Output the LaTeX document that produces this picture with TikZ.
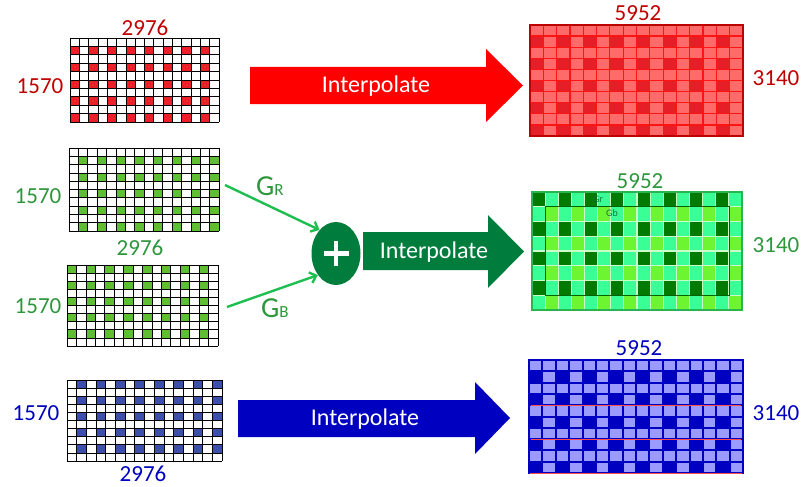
\documentclass[tikz,border=0pt]{standalone}
\usepackage{fontspec}
\setmainfont{Carlito}
\usetikzlibrary{arrows.meta,shapes.geometric}

\definecolor{labred}{RGB}{192,0,0}
\definecolor{labgreen}{RGB}{46,150,60}
\definecolor{labblue}{RGB}{0,0,192}
\definecolor{cellred}{RGB}{236,32,40}
\definecolor{cellgreen}{RGB}{96,190,50}
\definecolor{cellblue}{RGB}{60,80,170}
\definecolor{arrred}{RGB}{255,0,0}
\definecolor{arrgreen}{RGB}{0,125,60}
\definecolor{arrblue}{RGB}{0,0,192}
\definecolor{conngreen}{RGB}{30,190,80}
\definecolor{orlight}{RGB}{255,106,106}
\definecolor{ordark}{RGB}{230,30,40}
\definecolor{orline}{RGB}{255,20,20}
\definecolor{orborder}{RGB}{190,0,0}
\definecolor{ogdark}{RGB}{0,122,0}
\definecolor{ogmint}{RGB}{58,255,150}
\definecolor{oglime}{RGB}{110,245,50}
\definecolor{oggap}{RGB}{200,255,200}
\definecolor{ogborder}{RGB}{40,180,80}
\definecolor{obdark}{RGB}{0,0,192}
\definecolor{oblight}{RGB}{155,155,255}
\definecolor{gtext}{RGB}{20,110,60}

\tikzset{
  numlbl/.style={font=\fontsize{23}{27}\selectfont, inner sep=0},
  itext/.style={font=\fontsize{24}{28}\selectfont, text=white, inner sep=0},
  gline/.style={line width=0.7pt, black},
  gridnode/.style={inner sep=0, draw=none},
  conn/.style={conngreen, line width=2.4pt, -{Straight Barb[length=6pt,width=11pt]}},
}

\newcommand{\ingrid}[8]{%
  \pgfmathsetmacro\gw{(#4-#2)/16}%
  \pgfmathsetmacro\gh{(#5-#3)/10}%
  \node[gridnode, minimum width={#4-#2}, minimum height={#5-#3}] (#1) at ({(#2+#4)/2},{(#3+#5)/2}) {};
  \fill[white] (#2,#3) rectangle (#4,#5);
  \foreach \r in {#7} \foreach \c in {#8} \fill[#6] ({#2+\c*\gw},{#3+\r*\gh}) rectangle ++(\gw,\gh);
  \foreach \i in {0,...,16} \draw[gline] ({#2+\i*\gw},#3) -- ({#2+\i*\gw},#5);
  \foreach \j in {0,...,10} \draw[gline] (#2,{#3+\j*\gh}) -- (#4,{#3+\j*\gh});
}

\begin{document}
\begin{tikzpicture}[x=1pt,y=-1pt]
\useasboundingbox (0,0) rectangle (801,487);

% ---------- input grids ----------
\ingrid{rin}{70}{38}{219}{122}{cellred}{1,3,...,9}{0,2,...,14}
\ingrid{gtop}{69}{148}{219}{231}{cellgreen}{1,3,...,9}{1,3,...,15}
\ingrid{gbot}{67}{265}{218}{346}{cellgreen}{0,2,...,8}{0,2,...,14}
\ingrid{bin}{67}{380}{222}{461}{cellblue}{0,2,...,8}{1,3,...,15}

% ---------- labels ----------
\node[numlbl, text=labred] (r2976) at (145,28) {2976};
\node[numlbl, text=labred] (r1570) at (40,86) {1570};
\node[numlbl, text=labred] (r5952) at (638,13) {5952};
\node[numlbl, text=labred] (r3140) at (776,78) {3140};
\node[numlbl, text=labgreen] (g1570a) at (38,196) {1570};
\node[numlbl, text=labgreen] (g2976) at (140,248) {2976};
\node[numlbl, text=labgreen] (g1570b) at (38,306) {1570};
\node[numlbl, text=labgreen] (g5952) at (640,181) {5952};
\node[numlbl, text=labgreen] (g3140) at (776,245) {3140};
\node[numlbl, text=labblue] (b1570) at (36,413) {1570};
\node[numlbl, text=labblue] (b2976) at (143,474) {2976};
\node[numlbl, text=labblue] (b5952) at (639,348) {5952};
\node[numlbl, text=labblue] (b3140) at (776,413) {3140};

% ---------- big arrows ----------
\fill[arrred] (250,67) -- (486,67) -- (486,49) -- (523,85.5) -- (486,122) -- (486,104) -- (250,104) -- cycle;
\node[itext] (tr) at (376,86) {Interpolate};
\fill[arrgreen] (363,232) -- (488,232) -- (488,215) -- (524,251.5) -- (488,288) -- (488,270) -- (363,270) -- cycle;
\node[itext] (tg) at (434,252) {Interpolate};
\fill[arrblue] (238,400) -- (475,400) -- (475,382) -- (510,418) -- (475,454) -- (475,437) -- (238,437) -- cycle;
\node[itext] (tb) at (365,419) {Interpolate};

% ---------- plus and connectors ----------
\node[ellipse, fill=arrgreen, minimum width=49, minimum height=63, inner sep=0] (plus) at (336,253.5) {};
\draw[white, line width=4.5pt] ([xshift=-12.5pt]plus.center) -- ([xshift=12.5pt]plus.center);
\draw[white, line width=4.5pt] ([yshift=-12.5pt]plus.center) -- ([yshift=12.5pt]plus.center);
\coordinate (grs) at (225,185);
\coordinate (gbs) at (227,307);
\draw[conn] (grs) -- (plus.125);
\draw[conn] (gbs) -- (plus.230);
\node[anchor=base west, inner sep=0, text=labgreen] (grl) at (256,195.5) {\fontsize{29}{31}\selectfont G\fontsize{17}{19}\selectfont R};
\node[anchor=base west, inner sep=0, text=labgreen] (gbl) at (261,317) {\fontsize{29}{31}\selectfont G\fontsize{17}{19}\selectfont B};

% ---------- red output ----------
\node[gridnode, minimum width=213, minimum height=111] (rout) at (636.5,80.5) {};
\fill[orline] (530,25) rectangle (743,136);
\foreach \r in {0,...,9} \foreach \c in {0,...,15}
  \fill[orlight] ({530+\c*13.3125+0.6},{25+\r*11.1+0.6}) rectangle ++(12.1,9.9);
\foreach \r in {1,3,...,9} \foreach \c in {0,2,...,14}
  \fill[ordark] ({530+\c*13.3125+0.6},{25+\r*11.1+0.6}) rectangle ++(12.1,9.9);
\draw[orborder, line width=2.5pt] (530,25) rectangle (743,136);

% ---------- green output ----------
\node[gridnode, minimum width=210, minimum height=118] (gout) at (637,251) {};
\fill[oggap] (532,192) rectangle (742,310);
\foreach \r in {0,...,7} \foreach \c in {0,...,15}
  \fill[ogmint] ({532+\c*13.125+0.6},{192+\r*14.75+0.6}) rectangle ++(11.9,13.55);
\foreach \r in {0,2,...,6} \foreach \c in {0,2,...,14}
  \fill[ogdark] ({532+\c*13.125+0.6},{192+\r*14.75+0.6}) rectangle ++(11.9,13.55);
\foreach \r in {1,3,...,7} \foreach \c in {1,3,...,15}
  \fill[oglime] ({532+\c*13.125+0.6},{192+\r*14.75+0.6}) rectangle ++(11.9,13.55);
\draw[ogdark!80!black, line width=0.8pt] (545.1,206.75) rectangle (728.9,295.25);
\draw[ogborder, line width=1.5pt] (532,192) rectangle (742,310);
\node[font=\fontsize{10}{12}\selectfont, text=gtext, inner sep=0] (grtag) at (598,199) {Gr};
\node[font=\fontsize{10}{12}\selectfont, text=gtext, inner sep=0] (gbtag) at (612,213.5) {Gb};

% ---------- blue output ----------
\node[gridnode, minimum width=214, minimum height=113] (bout) at (636,416.5) {};
\fill[obdark] (529,360) rectangle (743,473);
\foreach \r in {0,...,9} \foreach \c in {0,...,15}
  \fill[oblight] ({529+\c*13.375+1},{360+\r*11.3+1}) rectangle ++(11.4,9.3);
\foreach \r in {1,3,...,9} \foreach \c in {0,2,...,14}
  \fill[obdark] ({529+\c*13.375},{360+\r*11.3}) rectangle ++(13.375,11.3);
\draw[red!70!white, line width=0.7pt] (531,405.2) -- (741,405.2);
\draw[red!70!white, line width=0.7pt] (531,439.1) -- (741,439.1);
\draw[obdark, line width=2.5pt] (529,360) rectangle (743,473);
\draw[red!70!white, line width=0.8pt] (530,473.6) -- (742,473.6);
\end{tikzpicture}
\end{document}
